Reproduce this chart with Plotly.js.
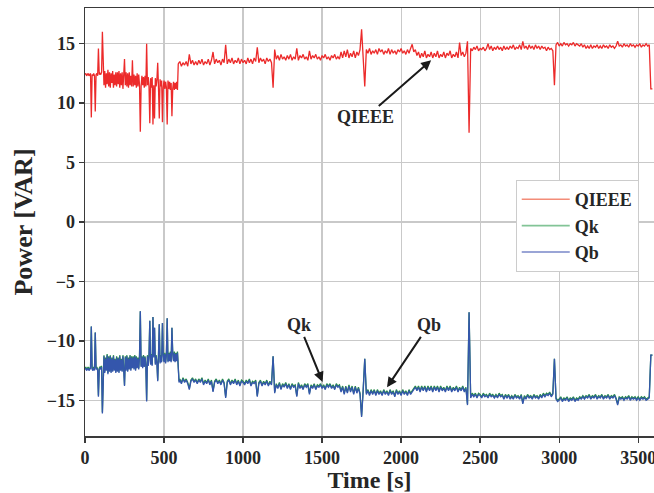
<!DOCTYPE html>
<html><head><meta charset="utf-8">
<script src="https://cdn.plot.ly/plotly-3.0.1.min.js"></script>
<style>html,body{margin:0;padding:0;overflow:hidden;background:#fff;width:654px;height:493px}</style>
</head><body>
<div id="chart" style="width:680px;height:493px"></div>
<script>
// readings are sampled every 5 s from 0 to 595 s, then every 10 s from 600 s on
const EARLY_STEP = 5;
const LATE_START = 600;
const LATE_STEP = 10;

// QIEEE, 0-595 s (one row per 100 s)
const qieeeEarly = [
12.4,12.5,12.3,12.4,12.5,12.3,12.4,12.5,8.8,12.4,12.3,12.5,12.3,9.3,12.4,12.5,12.3,14.6,12.4,12.5,
12.4,12.6,16.0,12.2,11.5,12.7,11.3,12.5,11.6,12.8,11.4,12.6,11.3,12.5,11.7,12.7,11.3,12.4,11.5,12.6,
11.4,12.6,11.6,12.7,11.3,12.5,11.5,12.6,11.2,12.4,13.7,11.5,12.6,11.4,12.5,11.3,12.6,11.5,12.3,11.4,
13.6,11.4,12.4,11.5,12.3,11.3,12.5,11.4,12.4,11.5,7.6,11.4,12.3,11.5,12.2,11.3,12.3,11.4,15.0,11.5,
12.2,11.4,8.3,12.1,11.3,12.2,8.2,11.5,8.7,12.1,11.4,12.0,13.4,11.3,8.7,12.0,11.4,11.9,8.4,11.3,
11.9,11.2,11.8,11.3,8.2,11.9,11.2,11.8,11.1,11.7,8.9,11.2,11.8,11.1,11.7,11.2,11.8,11.1,13.3,13.4
];
// QIEEE, 600-3590 s (one row per 100 s)
const qieeeLate = [
13.5,13.1,13.4,13.2,13.5,13.1,14.1,13.3,13.6,13.2,
13.5,13.2,13.6,13.3,13.7,13.2,13.5,13.3,13.7,13.2,
13.6,14.3,13.3,13.7,13.4,13.6,13.2,13.7,13.4,14.9,
13.3,13.7,13.4,13.8,13.3,13.6,13.4,13.8,13.3,13.7,
13.4,13.6,13.3,13.8,13.4,13.7,13.3,13.8,13.5,14.7,
13.4,13.8,13.5,13.7,13.3,13.8,13.5,13.7,13.4,11.3,
14.5,13.7,14.0,13.6,14.1,13.7,13.9,13.6,14.0,13.7,
14.1,13.6,13.9,13.7,14.6,13.6,14.0,13.8,14.1,13.7,
13.9,13.6,14.4,13.7,14.0,13.8,14.1,13.7,13.9,13.6,
14.0,13.8,14.1,13.7,13.9,13.6,14.0,13.8,14.1,13.7,
13.9,13.7,14.3,13.8,14.4,13.9,14.5,13.8,14.2,13.9,
14.4,13.8,14.3,14.0,14.5,16.2,14.1,11.4,14.5,14.2,
14.6,14.1,14.4,14.2,14.5,14.1,14.6,14.3,14.5,14.1,
14.4,14.2,14.6,14.1,14.5,14.2,14.4,14.1,14.5,14.3,
14.6,14.2,14.4,14.1,14.5,14.2,14.6,14.95,14.3,14.5,
14.0,14.3,13.8,14.2,13.9,14.4,13.8,14.1,13.9,14.3,
13.8,14.2,13.9,14.4,13.8,14.1,13.9,14.3,13.8,14.2,
14.0,14.4,13.8,14.1,13.9,14.3,13.8,15.1,14.0,14.3,
13.9,14.2,15.2,7.5,14.6,14.4,14.7,14.5,14.8,14.4,
14.6,14.5,14.7,14.4,14.6,15.0,14.5,14.8,14.4,14.7,
14.5,14.8,14.5,14.7,14.4,14.8,14.5,14.7,14.5,14.8,
14.6,14.9,14.5,14.7,14.6,14.9,14.5,15.2,14.6,14.8,
14.5,14.9,14.6,14.8,14.5,14.9,14.6,14.8,14.5,14.8,
14.6,14.7,14.4,14.7,14.5,14.6,14.4,11.5,14.9,15.1,
14.8,15.0,14.8,15.1,14.9,15.0,14.8,15.0,14.9,15.1,
14.8,15.0,14.9,14.8,15.0,14.7,14.9,14.6,14.8,14.6,
14.9,14.6,14.8,14.7,14.9,14.6,14.8,14.6,14.9,14.7,
14.8,14.6,14.9,14.7,14.8,14.6,14.8,15.2,14.8,14.9,
14.7,15.0,14.8,14.9,14.7,15.0,14.8,14.9,14.7,14.9,
14.8,15.0,14.7,14.9,14.8,15.0,14.8,14.9,11.2,11.2
];

// Qk, 0-595 s
const qkEarly = [
-12.3,-12.2,-12.4,-12.3,-12.2,-12.4,-12.3,-12.2,-8.8,-12.3,-12.4,-12.2,-12.4,-9.3,-12.3,-12.2,-12.4,-14.6,-12.3,-12.2,
-12.3,-12.1,-16.0,-12.5,-11.2,-12.6,-11.4,-12.4,-11.1,-12.7,-11.3,-12.5,-11.2,-12.6,-11.4,-12.5,-11.2,-12.4,-11.5,-12.6,
-11.3,-12.5,-11.4,-12.6,-11.2,-12.4,-11.5,-12.5,-11.2,-12.3,-13.7,-11.3,-12.4,-11.2,-12.5,-11.4,-12.3,-11.2,-12.4,-11.3,
-12.2,-11.3,-12.3,-11.2,-12.4,-11.3,-12.2,-11.4,-12.3,-11.2,-7.5,-12.1,-11.3,-12.2,-11.2,-12.1,-11.3,-12.0,-15.0,-11.2,
-12.0,-11.2,-8.3,-11.9,-11.1,-12.0,-8.0,-11.3,-8.9,-11.9,-11.2,-11.8,-13.3,-11.1,-8.6,-11.8,-11.2,-11.7,-8.5,-11.1,
-11.7,-11.0,-11.8,-11.1,-8.1,-11.7,-11.0,-11.6,-10.9,-11.7,-8.9,-11.0,-11.6,-10.9,-11.7,-11.0,-11.6,-10.9,-13.2,-13.4
];
// Qk, 600-3590 s
const qkLate = [
-13.2,-13.5,-13.1,-13.4,-13.2,-13.5,-14.0,-13.3,-13.1,-13.4,
-13.2,-13.5,-13.2,-13.4,-13.1,-13.6,-13.3,-13.5,-13.2,-13.6,
-13.3,-14.2,-13.4,-13.2,-13.5,-13.3,-13.6,-13.2,-13.5,-14.7,
-13.4,-13.2,-13.6,-13.3,-13.5,-13.2,-13.6,-13.3,-13.7,-13.3,
-13.4,-13.6,-13.3,-13.5,-13.2,-13.7,-13.4,-13.5,-13.3,-14.6,
-13.5,-13.3,-13.7,-13.4,-13.6,-13.3,-13.7,-13.4,-13.6,-11.3,
-14.3,-13.6,-13.9,-13.5,-14.0,-13.6,-13.8,-13.5,-13.9,-13.6,
-14.0,-13.6,-13.8,-13.7,-14.6,-13.5,-13.9,-13.7,-14.0,-13.6,
-13.8,-13.6,-14.4,-13.7,-13.9,-13.6,-14.0,-13.7,-13.8,-13.6,
-13.9,-13.7,-14.0,-13.6,-13.8,-13.6,-13.9,-13.7,-14.0,-13.6,
-13.8,-13.7,-14.2,-13.8,-14.4,-13.8,-14.3,-13.7,-14.2,-13.8,
-14.4,-13.8,-14.3,-13.9,-14.4,-16.3,-14.1,-11.5,-14.4,-14.1,
-14.5,-14.1,-14.4,-14.1,-14.5,-14.1,-14.4,-14.2,-14.5,-14.1,
-14.4,-14.2,-14.5,-14.1,-14.4,-14.2,-14.6,-14.1,-14.4,-14.2,
-14.5,-14.1,-14.4,-14.2,-14.5,-14.1,-14.4,-14.2,-14.0,-13.8,
-14.1,-13.8,-14.2,-13.8,-14.1,-13.8,-14.2,-13.8,-14.1,-13.8,
-14.2,-13.8,-14.1,-13.8,-14.2,-13.8,-14.1,-13.9,-14.2,-13.8,
-14.1,-13.8,-14.2,-13.9,-14.1,-13.8,-14.2,-13.9,-14.1,-13.8,
-14.2,-13.9,-15.3,-7.6,-14.7,-14.4,-14.6,-14.4,-14.7,-14.4,
-14.5,-14.7,-14.4,-14.6,-14.5,-14.7,-14.4,-14.6,-14.5,-14.7,
-14.5,-14.7,-14.4,-14.6,-14.5,-14.8,-14.5,-14.7,-14.5,-14.8,
-14.6,-14.8,-14.5,-14.7,-14.6,-14.8,-14.5,-15.2,-14.6,-14.8,
-14.5,-14.7,-14.6,-14.8,-14.5,-14.7,-14.6,-14.8,-14.5,-14.7,
-14.4,-14.6,-14.4,-14.5,-14.3,-14.6,-14.4,-11.5,-14.8,-15.0,
-14.9,-14.7,-15.0,-14.8,-14.9,-14.7,-15.0,-14.8,-14.9,-14.7,
-15.0,-14.8,-14.9,-14.7,-14.8,-14.6,-14.8,-14.6,-14.7,-14.5,
-14.8,-14.6,-14.7,-14.5,-14.8,-14.6,-14.7,-14.5,-14.8,-14.6,
-14.7,-14.5,-14.8,-14.6,-14.7,-14.5,-14.8,-15.3,-14.7,-14.8,
-14.7,-14.9,-14.7,-14.8,-14.6,-14.9,-14.7,-14.8,-14.7,-14.9,
-14.7,-14.9,-14.7,-14.8,-14.7,-14.9,-14.8,-14.7,-11.2,-11.2
];

// Qb, 0-595 s
const qbEarly = [
-12.4,-12.3,-12.5,-12.4,-12.3,-12.5,-12.4,-12.3,-8.8,-12.4,-12.5,-12.3,-12.5,-9.3,-12.4,-12.3,-12.5,-14.7,-12.4,-12.3,
-12.4,-12.2,-16.1,-12.6,-11.3,-12.7,-11.5,-12.5,-11.2,-12.8,-11.4,-12.6,-11.3,-12.7,-11.5,-12.6,-11.3,-12.5,-11.6,-12.7,
-11.4,-12.6,-11.5,-12.7,-11.3,-12.5,-11.6,-12.6,-11.3,-12.4,-13.8,-11.4,-12.5,-11.3,-12.6,-11.5,-12.4,-11.3,-12.5,-11.4,
-12.3,-11.4,-12.4,-11.3,-12.5,-11.4,-12.3,-11.5,-12.4,-11.3,-7.5,-12.2,-11.4,-12.3,-11.3,-12.2,-11.4,-12.1,-15.1,-11.3,
-12.1,-11.3,-8.3,-12.0,-11.2,-12.1,-8.0,-11.4,-8.9,-12.0,-11.3,-11.9,-13.4,-11.2,-8.6,-11.9,-11.3,-11.8,-8.5,-11.2,
-11.8,-11.1,-11.9,-11.2,-8.1,-11.8,-11.1,-11.7,-11.0,-11.8,-8.9,-11.1,-11.7,-11.0,-11.8,-11.1,-11.7,-11.0,-13.3,-13.5
];
// Qb, 600-3590 s
const qbLate = [
-13.3,-13.6,-13.2,-13.5,-13.3,-13.6,-14.1,-13.4,-13.2,-13.5,
-13.3,-13.6,-13.3,-13.5,-13.2,-13.7,-13.4,-13.6,-13.3,-13.7,
-13.4,-14.3,-13.5,-13.3,-13.6,-13.4,-13.7,-13.3,-13.6,-14.8,
-13.5,-13.3,-13.7,-13.4,-13.6,-13.3,-13.7,-13.4,-13.8,-13.4,
-13.5,-13.7,-13.4,-13.6,-13.3,-13.8,-13.5,-13.6,-13.4,-14.7,
-13.6,-13.4,-13.8,-13.5,-13.7,-13.4,-13.8,-13.5,-13.7,-11.3,
-14.4,-13.7,-14.0,-13.6,-14.1,-13.7,-13.9,-13.6,-14.0,-13.7,
-14.1,-13.7,-13.9,-13.8,-14.7,-13.6,-14.0,-13.8,-14.1,-13.7,
-13.9,-13.7,-14.5,-13.8,-14.0,-13.7,-14.1,-13.8,-13.9,-13.7,
-14.0,-13.8,-14.1,-13.7,-13.9,-13.7,-14.0,-13.8,-14.1,-13.7,
-13.9,-13.8,-14.3,-13.9,-14.5,-13.9,-14.4,-13.8,-14.3,-13.9,
-14.5,-13.9,-14.4,-14.0,-14.5,-16.4,-14.2,-11.5,-14.5,-14.2,
-14.6,-14.2,-14.5,-14.2,-14.6,-14.2,-14.5,-14.3,-14.6,-14.2,
-14.5,-14.3,-14.6,-14.2,-14.5,-14.3,-14.7,-14.2,-14.5,-14.3,
-14.6,-14.2,-14.5,-14.3,-14.6,-14.2,-14.5,-14.3,-14.1,-13.9,
-14.2,-13.9,-14.3,-13.9,-14.2,-13.9,-14.3,-13.9,-14.2,-13.9,
-14.3,-13.9,-14.2,-13.9,-14.3,-13.9,-14.2,-14.0,-14.3,-13.9,
-14.2,-13.9,-14.3,-14.0,-14.2,-13.9,-14.3,-14.0,-14.2,-13.9,
-14.3,-14.0,-15.4,-7.6,-14.8,-14.5,-14.7,-14.5,-14.8,-14.5,
-14.6,-14.8,-14.5,-14.7,-14.6,-14.8,-14.5,-14.7,-14.6,-14.8,
-14.6,-14.8,-14.5,-14.7,-14.6,-14.9,-14.6,-14.8,-14.6,-14.9,
-14.7,-14.9,-14.6,-14.8,-14.7,-14.9,-14.6,-15.3,-14.7,-14.9,
-14.6,-14.8,-14.7,-14.9,-14.6,-14.8,-14.7,-14.9,-14.6,-14.8,
-14.5,-14.7,-14.5,-14.6,-14.4,-14.7,-14.5,-11.5,-14.9,-15.1,
-15.0,-14.8,-15.1,-14.9,-15.0,-14.8,-15.1,-14.9,-15.0,-14.8,
-15.1,-14.9,-15.0,-14.8,-14.9,-14.7,-14.9,-14.7,-14.8,-14.6,
-14.9,-14.7,-14.8,-14.6,-14.9,-14.7,-14.8,-14.6,-14.9,-14.7,
-14.8,-14.6,-14.9,-14.7,-14.8,-14.6,-14.9,-15.4,-14.8,-14.9,
-14.8,-15.0,-14.8,-14.9,-14.7,-15.0,-14.8,-14.9,-14.8,-15.0,
-14.8,-15.0,-14.8,-14.9,-14.8,-15.0,-14.9,-14.8,-11.2,-11.2
];

const seriesNames = ['QIEEE', 'Qk', 'Qb'];
const xTicks = [0, 500, 1000, 1500, 2000, 2500, 3000, 3500];
const yTicks = [-15, -10, -5, 0, 5, 10, 15];

const timeEarly = qieeeEarly.map((_, i) => i * EARLY_STEP);
const timeLate = qieeeLate.map((_, i) => LATE_START + i * LATE_STEP);
const time = timeEarly.concat(timeLate);
const values = [qieeeEarly.concat(qieeeLate), qkEarly.concat(qkLate), qbEarly.concat(qbLate)];

const lineColors = ['rgb(236,42,42)', 'rgb(38,140,72)', 'rgb(52,86,172)'];
const legendColors = ['rgb(243,140,120)', 'rgb(130,196,150)', 'rgb(120,135,200)'];

const FONT = 'Liberation Serif, Times New Roman, serif';
const INK = '#262626';

const traces = [];
values.forEach((v, k) => {
  traces.push({x: time, y: v, type: 'scatter', mode: 'lines', name: seriesNames[k],
    line: {color: lineColors[k], width: 1.3}, showlegend: false, hoverinfo: 'skip'});
});
values.forEach((v, k) => {
  traces.push({x: [null], y: [null], type: 'scatter', mode: 'lines', name: seriesNames[k],
    line: {color: legendColors[k], width: 1.6}, showlegend: true});
});

const annFont = {family: FONT, size: 18, color: INK, weight: 'bold'};
const arrow = {showarrow: true, arrowhead: 2, arrowsize: 1, arrowwidth: 2, arrowcolor: '#1a1a1a',
  axref: 'x', ayref: 'y', xref: 'x', yref: 'y', font: annFont};

const layout = {
  width: 680, height: 493,
  margin: {l: 85, r: 26, t: 8, b: 57},
  paper_bgcolor: '#ffffff', plot_bgcolor: '#ffffff',
  font: {family: FONT, color: INK},
  xaxis: {
    range: [0, 3600], tickvals: xTicks, ticktext: xTicks.map(String),
    showgrid: true, gridcolor: '#c9c9c9', gridwidth: 1.2, zeroline: false,
    showline: true, linecolor: '#3a3a3a', linewidth: 1.5, mirror: true,
    ticks: 'outside', ticklen: 5, tickwidth: 1.3, tickcolor: '#3a3a3a',
    tickfont: {family: FONT, size: 18, color: INK, weight: 'bold'},
    title: {text: 'Time [s]', font: {family: FONT, size: 24, color: INK, weight: 'bold'}, standoff: 3}
  },
  yaxis: {
    range: [-18, 18], tickvals: yTicks,
    showgrid: true, gridcolor: '#c9c9c9', gridwidth: 1.2, zeroline: false,
    showline: true, linecolor: '#3a3a3a', linewidth: 1.5, mirror: false,
    ticks: 'outside', ticklen: 5, tickwidth: 1.3, tickcolor: '#3a3a3a',
    tickfont: {family: FONT, size: 18, color: INK, weight: 'bold'},
    title: {text: 'Power [VAR]', font: {family: FONT, size: 26, color: INK, weight: 'bold'}, standoff: 6}
  },
  legend: {
    x: 0.757, y: 0.598, xanchor: 'left', yanchor: 'top',
    bgcolor: '#ffffff', bordercolor: '#cccccc', borderwidth: 1,
    itemwidth: 48,
    font: {family: FONT, size: 18, color: INK, weight: 'bold'}
  },
  annotations: [
    Object.assign({text: 'QIEEE', x: 2190, y: 13.6, ax: 1775, ay: 8.8}, arrow),
    Object.assign({text: 'Qk', x: 1503, y: -13.45, ax: 1357, ay: -8.7}, arrow),
    Object.assign({text: 'Qb', x: 1911, y: -13.9, ax: 2174, ay: -8.7}, arrow)
  ],
  showlegend: true
};

Plotly.newPlot('chart', traces, layout, {staticPlot: true, displayModeBar: false});
</script>
</body></html>
